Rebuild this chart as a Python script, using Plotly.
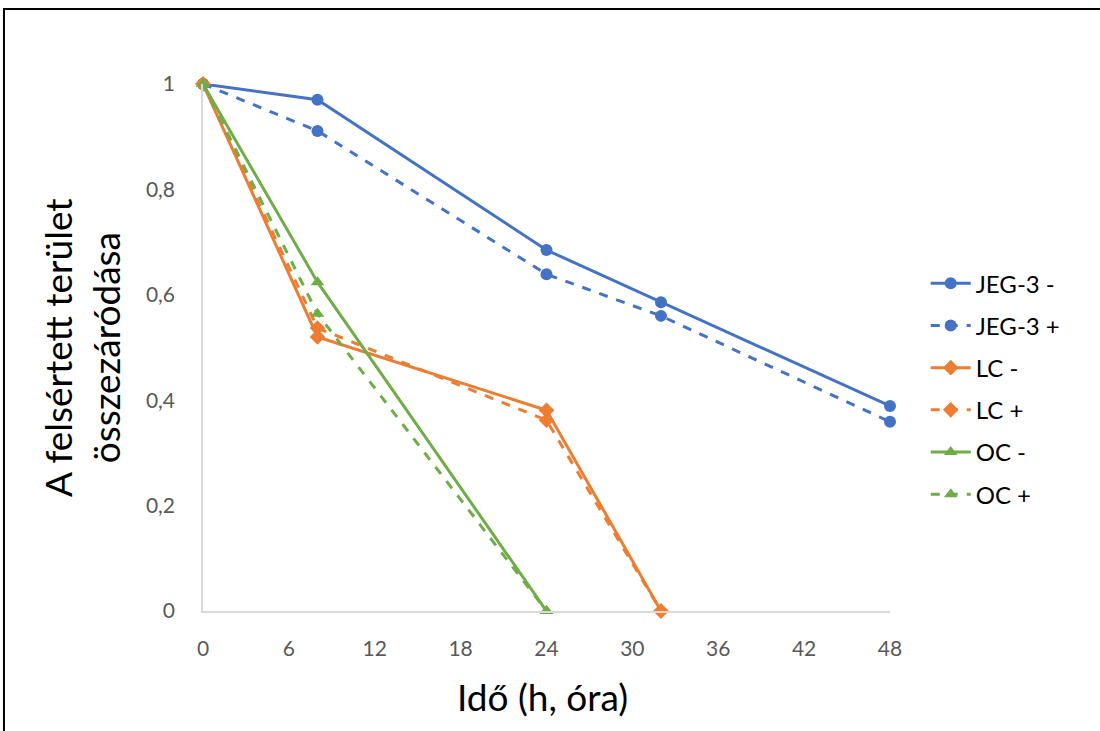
import plotly.graph_objects as go

hours_jeg = [0, 8, 24, 32, 48]
hours_lc = [0, 8, 24, 32]
hours_oc = [0, 8, 24]

jeg_minus = [1.0, 0.970, 0.685, 0.586, 0.389]
jeg_plus = [1.0, 0.911, 0.639, 0.560, 0.359]
lc_minus = [1.0, 0.520, 0.381, 0.0]
lc_plus = [1.0, 0.537, 0.362, 0.0]
oc_minus = [1.0, 0.624, 0.0]
oc_plus = [1.0, 0.564, 0.0]

x_ticks = [0, 6, 12, 18, 24, 30, 36, 42, 48]
y_ticks = [0, 0.2, 0.4, 0.6, 0.8, 1]

BLUE = "#4472C4"
ORANGE = "#ED7D31"
GREEN = "#70AD47"
FONT = "Lato"

series = [
    ("JEG-3 -", hours_jeg, jeg_minus, BLUE, "solid", "circle"),
    ("JEG-3 +", hours_jeg, jeg_plus, BLUE, "dash", "circle"),
    ("LC -", hours_lc, lc_minus, ORANGE, "solid", "diamond"),
    ("LC +", hours_lc, lc_plus, ORANGE, "dash", "diamond"),
    ("OC -", hours_oc, oc_minus, GREEN, "solid", "triangle-up"),
    ("OC +", hours_oc, oc_plus, GREEN, "dash", "triangle-up"),
]

fig = go.Figure()
for i, (name, xs, ys, col, dash, sym) in enumerate(series):
    fig.add_trace(go.Scatter(
        x=xs, y=ys, name=name, mode="lines+markers",
        line=dict(color=col, width=3, dash=dash),
        marker=dict(color=col, size=12, symbol=sym),
        cliponaxis=False, legendgroup=str(i),
    ))

fig.update_layout(
    width=1100, height=731,
    margin=dict(l=203, r=210, t=84, b=120),
    paper_bgcolor="white", plot_bgcolor="white",
    separators=", ",
    font=dict(family=FONT, size=21, color="#595959"),
    showlegend=True,
    legend=dict(x=1.052, y=0.421, yanchor="middle", xanchor="left",
                font=dict(family=FONT, size=24, color="#000000"),
                tracegroupgap=8, itemwidth=40),
    xaxis=dict(range=[0, 48], tickvals=x_ticks, showgrid=False, zeroline=False,
               showline=True, linecolor="#D9D9D9", linewidth=1.5,
               ticklabelstandoff=18, tickfont=dict(size=21, color="#595959")),
    yaxis=dict(range=[0, 1], tickvals=y_ticks, showgrid=False, zeroline=False,
               showline=True, linecolor="#D9D9D9", linewidth=1.5,
               ticklabelstandoff=22, tickfont=dict(size=21, color="#595959")),
    annotations=[
        dict(text="A felsértett terület<br>összezáródása", xref="paper", yref="paper",
             x=-0.177, y=0.50, textangle=-90, showarrow=False,
             font=dict(family=FONT, size=37, color="#000000"),
             xanchor="center", yanchor="middle"),
        dict(text="Idő (h, óra)", xref="paper", yref="paper",
             x=0.4935, y=-0.163, showarrow=False,
             font=dict(family=FONT, size=37, color="#000000"),
             xanchor="center", yanchor="middle"),
    ],
    shapes=[
        dict(type="rect", xref="paper", yref="paper",
             x0=-0.2897, x1=1.33, y0=-0.26, y1=1.1423,
             line=dict(color="#000000", width=2), layer="below"),
    ],
)

fig.write_html("out.html")
